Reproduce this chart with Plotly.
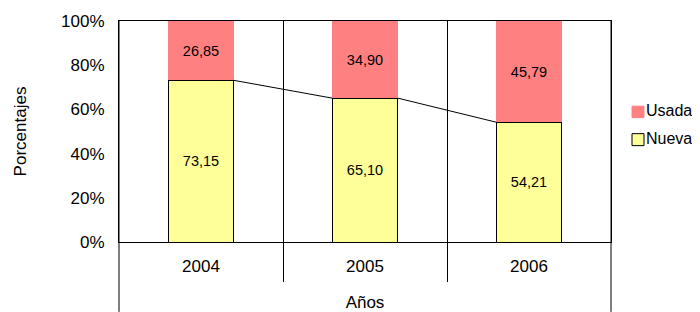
import plotly.graph_objects as go

years = ["2004", "2005", "2006"]
nueva = [73.15, 65.10, 54.21]
usada = [26.85, 34.90, 45.79]
y_ticks = [0, 20, 40, 60, 80, 100]
y_ticktext = [f"{v}%" for v in y_ticks]
colors = {"Usada": "#FF8080", "Nueva": "#FFFF99"}

FONT = "Arial, Liberation Sans, sans-serif"
bar_w = 0.4
xs = list(range(len(years)))

fig = go.Figure()
fig.add_trace(go.Bar(
    x=xs, y=nueva, name="Nueva", width=bar_w,
    marker=dict(color=colors["Nueva"], line=dict(color="black", width=1)),
    texttemplate="%{y:.2f}", textposition="inside", insidetextanchor="middle",
    textfont=dict(family=FONT, size=14.5, color="black"), constraintext="none",
))
fig.add_trace(go.Bar(
    x=xs, y=usada, name="Usada", width=bar_w,
    marker=dict(color=colors["Usada"], line=dict(width=0)),
    texttemplate="%{y:.2f}", textposition="inside", insidetextanchor="middle",
    textfont=dict(family=FONT, size=14.5, color="black"), constraintext="none",
))

# series lines joining tops of the Nueva segments
lx, ly = [], []
for i in range(len(years) - 1):
    lx += [xs[i] + bar_w / 2, xs[i + 1] - bar_w / 2, None]
    ly += [nueva[i], nueva[i + 1], None]
fig.add_trace(go.Scatter(x=lx, y=ly, mode="lines", line=dict(color="black", width=1),
                         hoverinfo="skip", showlegend=False))

# page body has an 8px margin; figure sized to fill the rest of the 700x312 window
OFF = 8
W, H = 700 - OFF, 312 - OFF
# plot area in window pixels
PL, PR, PT, PB = 119, 611, 20.7, 242
L, R, T, B = PL - OFF, W - (PR - OFF), PT - OFF, H - (PB - OFF)
pw, ph = W - L - R, H - T - B

def px_x(p):
    return (p - PL) / pw

def px_y(p):
    return (PB - p) / ph

shapes = []
for xp in (0, 1):
    shapes.append(dict(type="line", xref="paper", yref="paper", x0=xp, x1=xp,
                       y0=px_y(312), y1=1, line=dict(color="black", width=1)))

legend_rows = [("Usada", 106, 117.5, 110.5), ("Nueva", 133.5, 145.5, 138)]
annotations = []
for name, ytop, ybot, ytxt in legend_rows:
    shapes.append(dict(type="rect", xref="paper", yref="paper",
                       x0=px_x(632), x1=px_x(644), y0=px_y(ybot), y1=px_y(ytop),
                       fillcolor=colors[name],
                       line=dict(color="black" if name == "Nueva" else colors[name], width=1)))
    annotations.append(dict(xref="paper", yref="paper", x=px_x(645), y=px_y(ytxt),
                            xanchor="left", yanchor="middle", text=name, showarrow=False,
                            borderpad=0,
                            font=dict(family=FONT, size=16, color="black")))

fig.update_layout(
    width=W, height=H, margin=dict(l=L, r=R, t=T, b=B, autoexpand=False),
    barmode="stack", showlegend=False,
    plot_bgcolor="white", paper_bgcolor="white",
    separators=",.",
    font=dict(family=FONT, size=17, color="black"),
    shapes=shapes, annotations=annotations,
    xaxis=dict(
        range=[-0.5, len(years) - 0.5], tickmode="array", tickvals=xs, ticktext=years,
        ticks="", showgrid=False, zeroline=False,
        showline=True, linecolor="black", linewidth=1, mirror=True,
        ticklabelstandoff=9, automargin=False,
        minor=dict(tickmode="array", tickvals=[x + 0.5 for x in xs[:-1]], ticks="outside",
                   ticklen=39, tickwidth=1, tickcolor="black",
                   showgrid=True, gridcolor="black", gridwidth=1),
        title=dict(text="Años", font=dict(size=17), standoff=22),
        fixedrange=True,
    ),
    yaxis=dict(
        range=[0, 100], tickmode="array", tickvals=y_ticks, ticktext=y_ticktext,
        ticks="", showgrid=False, zeroline=False,
        showline=True, linecolor="black", linewidth=1, mirror=True,
        ticklabelstandoff=10, automargin=False,
        title=dict(text="Porcentajes", font=dict(size=17), standoff=30),
        fixedrange=True,
    ),
)

fig.write_html("out.html")
